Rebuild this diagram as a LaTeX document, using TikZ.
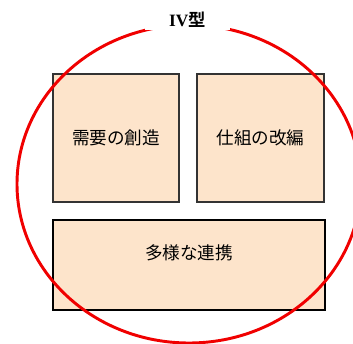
\documentclass[tikz,border=0pt]{standalone}
\usepackage{fontspec}
\newfontfamily\jp{Noto Sans CJK JP}
\newfontfamily\jpb{Noto Sans CJK JP Bold}
\newfontfamily\lser{Liberation Serif}
\definecolor{peach}{HTML}{FDE4CB}
\definecolor{ringred}{HTML}{F00000}
\begin{document}
\begin{tikzpicture}[x=0.75pt,y=-0.75pt,
  box/.style={draw=black!80,line width=0.8pt,fill=peach,inner sep=0pt},
  bigbox/.style={draw=black,line width=1.6pt,fill=peach,inner sep=0pt},
  boxtext/.style={font=\jp\fontsize{13.2}{16}\selectfont,inner sep=0pt},
  ring/.style={draw=ringred,line width=2.2pt}]
\useasboundingbox (0,0) rectangle (353,343);
\clip (0,0) rectangle (353,343);
\node[box,minimum width=126*0.75pt,minimum height=128*0.75pt] (b1) at (116,138) {};
\node[box,minimum width=127*0.75pt,minimum height=128*0.75pt] (b2) at (260.5,138) {};
\node[bigbox,minimum width=272*0.75pt,minimum height=90*0.75pt] (b3) at (189,265) {};
\node[boxtext] (t1) at (b1.center) {需要の創造};
\node[boxtext] (t2) at (b2.center) {仕組の改編};
\node[boxtext] (t3) at (189,253) {多様な連携};
\draw[ring] (189,184) ellipse [x radius=172, y radius=159];
\node[fill=white,inner xsep=18pt,inner ysep=2pt] (lab) at (187.5,20)
  {\fontsize{13}{15}\selectfont{\lser\bfseries IV}{\jpb 型}};
\end{tikzpicture}
\end{document}
